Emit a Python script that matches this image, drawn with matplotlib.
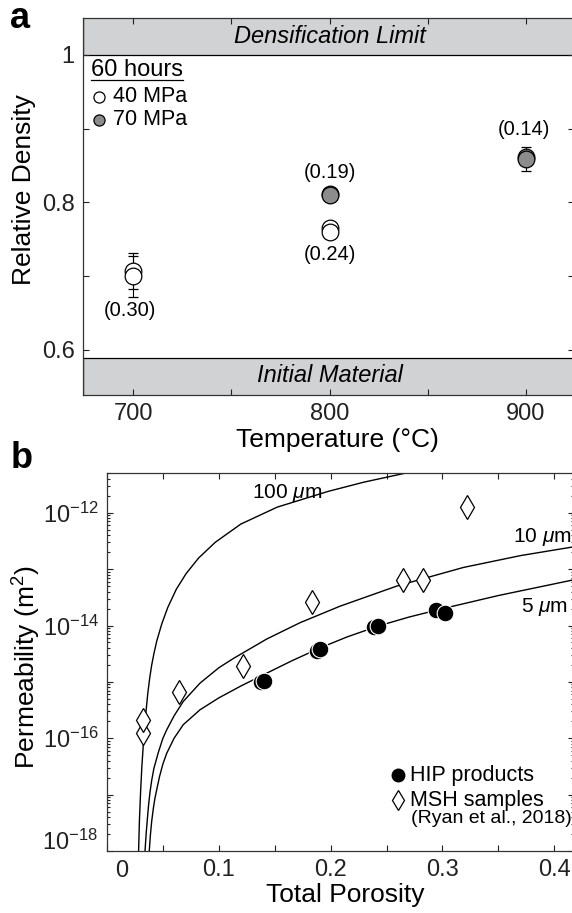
import numpy as np
import matplotlib
matplotlib.use("Agg")
import matplotlib.pyplot as plt
import matplotlib.ticker as ticker
from matplotlib.lines import Line2D

plt.rcParams['font.family'] = ['Liberation Sans', 'DejaVu Sans']
plt.rcParams['mathtext.fontset'] = 'custom'
plt.rcParams['mathtext.rm'] = 'Liberation Sans'
plt.rcParams['mathtext.it'] = 'Liberation Sans:italic'
plt.rcParams['mathtext.default'] = 'regular'

# ---- panel a data: relative density after 60 hours ----
temp_40 = [700, 700, 800, 800]
dens_40 = [0.707, 0.700, 0.765, 0.760]
err_40 = [0.025, 0.028, 0.003, 0.003]
temp_70 = [800, 800, 900, 900]
dens_70 = [0.812, 0.810, 0.862, 0.8586]
err_70 = [0.003, 0.003, 0.006, 0.0165]
poro_labels = ['(0.30)', '(0.19)', '(0.24)', '(0.14)']
poro_temp = [698.5, 800, 800, 899]
poro_dens = [0.654, 0.841, 0.730, 0.899]

# ---- panel b data: permeability vs porosity ----
hip_por = [0.138, 0.1404, 0.188, 0.1905, 0.239, 0.2427, 0.2943, 0.3023]
hip_k = [1.0e-15, 1.02e-15, 3.5e-15, 3.9e-15, 9.4e-15, 1.0e-14, 1.9e-14, 1.66e-14]
msh_por = [0.0320, 0.0325, 0.0644, 0.1214, 0.1837, 0.265, 0.283, 0.3223]
msh_k = [1.25e-16, 2.1e-16, 6.5e-16, 1.94e-15, 2.6e-14, 6.4e-14, 6.4e-14, 1.25e-12]

# model curves (grain size 100, 10, 5 um)
c100_por = [0.0282, 0.0290, 0.0300, 0.0312, 0.0326, 0.0345, 0.0365, 0.0382, 0.0400,
            0.0420, 0.0446, 0.0490, 0.0544, 0.0620, 0.0707, 0.0820, 0.0969, 0.1197,
            0.1523, 0.1980, 0.2300, 0.2700]
c100_k = [8.9e-19, 3.5e-18, 1.07e-17, 3.2e-17, 8.3e-17, 2.5e-16, 6.3e-16, 1.17e-15, 2.0e-15,
          3.2e-15, 5.4e-15, 1.07e-14, 2.1e-14, 4.4e-14, 8.3e-14, 1.58e-13, 3.0e-13, 6.3e-13,
          1.26e-12, 2.4e-12, 3.5e-12, 5.2e-12]
c10_por = [0.0340, 0.0350, 0.0360, 0.0372, 0.0385, 0.0400, 0.0420, 0.0459, 0.0500, 0.0534,
           0.0600, 0.0682, 0.0832, 0.1000, 0.1130, 0.1428, 0.1726, 0.2084, 0.2591, 0.3187,
           0.3700, 0.4180]
c10_k = [1.0e-18, 2.0e-18, 3.5e-18, 6.6e-18, 1.12e-17, 1.8e-17, 2.95e-17, 5.6e-17, 1.0e-16,
         1.41e-16, 2.5e-16, 4.5e-16, 9.5e-16, 1.78e-15, 2.6e-15, 5.75e-15, 1.12e-14, 2.2e-14,
         5.0e-14, 1.07e-13, 1.74e-13, 2.5e-13]
c5_por = [0.0378, 0.0388, 0.0400, 0.0415, 0.0429, 0.0470, 0.0500, 0.0534, 0.0600, 0.0682,
          0.0832, 0.1000, 0.1200, 0.1404, 0.1650, 0.1905, 0.2150, 0.2427, 0.2700, 0.2983,
          0.3500, 0.4180]
c5_k = [1.0e-18, 1.9e-18, 3.4e-18, 5.8e-18, 8.7e-18, 2.1e-17, 3.5e-17, 5.4e-17, 1.0e-16,
        1.74e-16, 3.2e-16, 5.2e-16, 8.5e-16, 1.35e-15, 2.35e-15, 4.0e-15, 6.3e-15, 9.8e-15,
        1.41e-14, 1.95e-14, 3.4e-14, 6.5e-14]

fig = plt.figure(figsize=(5.72, 9.13), dpi=100)
W, H = 572.0, 913.0

# ================= panel a =================
ax1 = fig.add_axes([83.2 / W, 1 - 395 / H, (574 - 83.2) / W, 377 / H])
ax1.set_xlim(674.5, 924.5)
ax1.set_ylim(0.539, 1.05)

band = '#d1d2d4'
ax1.axhspan(1.0, 1.06, fc=band, ec='black', lw=0.9, zorder=1)
ax1.axhspan(0.52, 0.589, fc=band, ec='black', lw=0.9, zorder=1)
ax1.text(800, 1.0255, 'Densification Limit', style='italic', fontsize=17,
         ha='center', va='center', zorder=2)
ax1.text(800, 0.5655, 'Initial Material', style='italic', fontsize=17,
         ha='center', va='center', zorder=2)

ax1.errorbar(temp_40, dens_40, yerr=err_40, fmt='o', ms=12, mfc='white', mec='black',
             mew=0.9, ecolor='black', elinewidth=0.8, capsize=3.5, capthick=0.8, zorder=3)
ax1.errorbar(temp_70, dens_70, yerr=err_70, fmt='o', ms=12, mfc='#8c8c8c', mec='black',
             mew=0.9, ecolor='black', elinewidth=0.8, capsize=3.5, capthick=0.8, zorder=3)

for lab, tx, ty in zip(poro_labels, poro_temp, poro_dens):
    ax1.text(tx, ty, lab, fontsize=14.5, ha='center', va='center', zorder=4)

# legend built by hand like the original
hdr = ax1.text(678.7, 0.9797, '60 hours', fontsize=17, ha='left', va='center')
ax1.plot([682.4], [0.943], 'o', ms=8, mfc='white', mec='black', mew=0.9)
ax1.plot([682.4], [0.912], 'o', ms=8, mfc='#8c8c8c', mec='black', mew=0.9)
ax1.text(689.6, 0.943, '40 MPa', fontsize=15.5, ha='left', va='center')
ax1.text(689.6, 0.912, '70 MPa', fontsize=15.5, ha='left', va='center')

ax1.set_xticks([700, 750, 800, 850, 900])
ax1.set_xticklabels(['700', '', '800', '', '900'])
ax1.set_yticks([0.6, 0.7, 0.8, 0.9, 1.0])
ax1.set_yticklabels(['0.6', '', '0.8', '', '1'])
ax1.tick_params(direction='in', top=True, right=True, length=4, width=0.8,
                labelsize=17, pad=6, colors='#222222')
ax1.set_xlabel('Temperature (°C)', fontsize=19, va='center')
ax1.xaxis.set_label_coords(0.519, -0.119)
ax1.set_ylabel('Relative Density', fontsize=19, va='center', ha='center')
ax1.yaxis.set_label_coords(-0.1206, 0.544)
for s in ax1.spines.values():
    s.set_linewidth(0.9)
    s.set_color('#333333')

# ================= panel b =================
ax2 = fig.add_axes([107 / W, 1 - 851 / H, (574 - 107) / W, 377.7 / H])
ax2.set_yscale('log')
ax2.set_xlim(0, 0.4177)
ax2.set_ylim(1e-18, 10 ** -11.30)

for px, ky in [(c100_por, c100_k), (c10_por, c10_k), (c5_por, c5_k)]:
    ax2.plot(px, ky, color='black', lw=1.0, zorder=2)

ax2.plot(msh_por, msh_k, 'd', ms=12.5, mfc='white', mec='black', mew=0.9, zorder=3)
ax2.plot(hip_por, hip_k, 'o', ms=12, mfc='black', mec='white', mew=0.8, zorder=4)

ax2.text(0.385, 0.947, r'100 $\mathit{\mu}$m', transform=ax2.transAxes, fontsize=15,
         ha='center', va='center')
ax2.text(0.9957, 0.832, r'10 $\mathit{\mu}$m', transform=ax2.transAxes, fontsize=15,
         ha='right', va='center')
ax2.text(0.987, 0.647, r'5 $\mathit{\mu}$m', transform=ax2.transAxes, fontsize=15,
         ha='right', va='center')

# hand-made legend
ax2.plot([0.624], [0.201], 'o', ms=9, mfc='black', mec='black', transform=ax2.transAxes)
ax2.plot([0.624], [0.135], 'd', ms=10, mfc='white', mec='black', mew=0.9,
         transform=ax2.transAxes)
ax2.text(0.649, 0.201, 'HIP products', transform=ax2.transAxes, fontsize=15.5,
         ha='left', va='center')
ax2.text(0.649, 0.135, 'MSH samples', transform=ax2.transAxes, fontsize=15.5,
         ha='left', va='center')
ax2.text(0.652, 0.0866, '(Ryan et al., 2018)', transform=ax2.transAxes, fontsize=14,
         ha='left', va='center')

ax2.set_xticks([0, 0.05, 0.1, 0.15, 0.2, 0.25, 0.3, 0.35, 0.4])
ax2.set_xticklabels(['', '', '0.1', '', '0.2', '', '0.3', '', '0.4'])
ax2.text(0.0134, -0.0238, '0', transform=ax2.get_xaxis_transform(), fontsize=17,
         ha='center', va='top', color='#222222')
ax2.set_yticks([1e-18, 1e-17, 1e-16, 1e-15, 1e-14, 1e-13, 1e-12])
ax2.set_yticklabels(['', '', '10$^{-16}$', '', '10$^{-14}$', '', '10$^{-12}$'])
ax2.text(-0.0193, 0.0238, '10$^{-18}$', transform=ax2.transAxes, fontsize=17,
         ha='right', va='center', color='#222222')
ax2.yaxis.set_minor_locator(ticker.LogLocator(base=10, subs=np.arange(2, 10), numticks=30))
ax2.yaxis.set_minor_formatter(ticker.NullFormatter())
ax2.tick_params(which='both', direction='in', top=True, right=True, width=0.8,
                labelsize=17, pad=6, colors='#222222')
ax2.tick_params(which='major', length=4)
ax2.tick_params(which='minor', length=2.2)
ax2.set_xlabel('Total Porosity', fontsize=19, va='center')
ax2.xaxis.set_label_coords(0.511, -0.1165)
ax2.set_ylabel('Permeability (m$^2$)', fontsize=19, va='center', ha='center')
ax2.yaxis.set_label_coords(-0.171, 0.488)
for s in ax2.spines.values():
    s.set_linewidth(0.9)
    s.set_color('#333333')

# panel letters
fig.text(20 / W, 1 - 19 / H, 'a', fontsize=26, fontweight='bold', ha='center', va='center')
fig.text(22 / W, 1 - 458 / H, 'b', fontsize=26, fontweight='bold', ha='center', va='center')

# underline for "60 hours"
fig.canvas.draw()
bb = hdr.get_window_extent()
y_line = bb.y0 + 1
fig.add_artist(Line2D([bb.x0 / W, bb.x1 / W], [y_line / H, y_line / H],
                      transform=fig.transFigure, color='black', lw=0.9))

fig.savefig('out.png', dpi=100)
